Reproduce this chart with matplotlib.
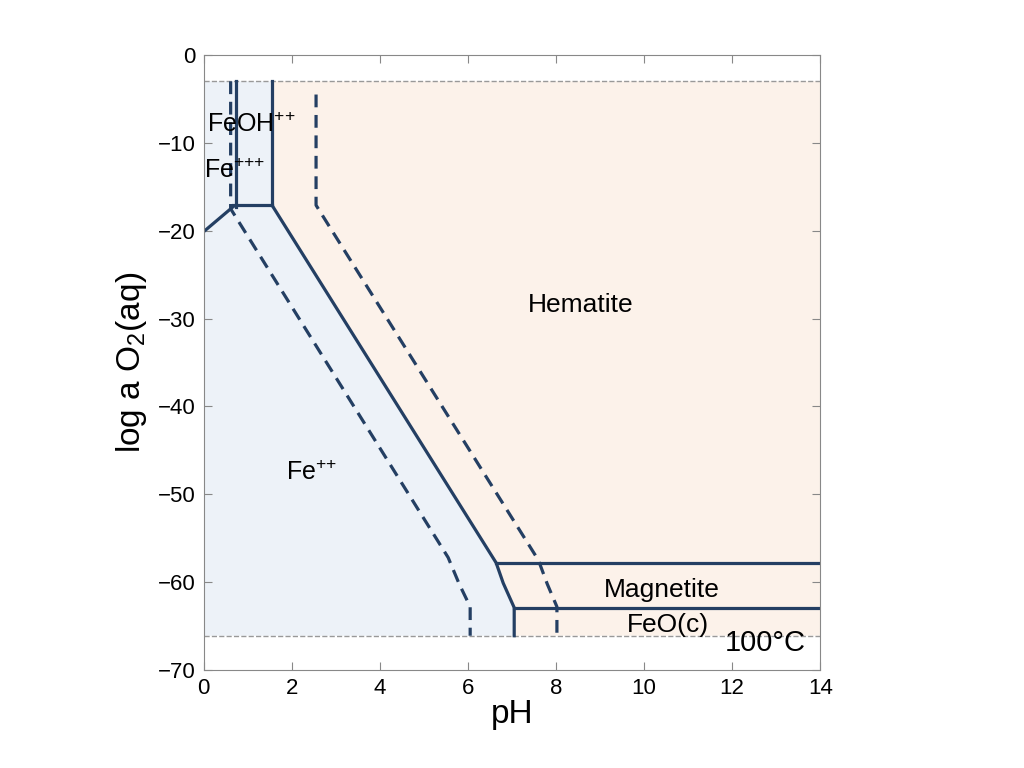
import numpy as np
import matplotlib.pyplot as plt

plt.rcParams['font.family'] = ['Liberation Sans', 'DejaVu Sans']
plt.rcParams['mathtext.fontset'] = 'custom'
plt.rcParams['mathtext.rm'] = 'Liberation Sans'
plt.rcParams['mathtext.it'] = 'Liberation Sans'
plt.rcParams['mathtext.bf'] = 'Liberation Sans:bold'

# diagram limits (log a O2)
y_top, y_bot = -3.0, -66.1

# solid boundaries
fe_fe3_x = [0.0, 0.66]
fe_fe3_y = [-20.1, -17.3]
fe3_feoh_x = [0.73, 0.73]
fe3_feoh_y = [-17.3, -3.0]
feoh_bot_x = [0.66, 1.55]
feoh_bot_y = [-17.1, -17.1]
feoh_hem_x = [1.55, 1.55]
feoh_hem_y = [-17.1, -3.0]
fe_hem_x = [1.55, 6.64, 6.80, 7.05, 7.05]
fe_hem_y = [-17.1, -57.8, -60.1, -62.9, -66.1]
mag_x = [6.64, 14.0]
mag_y = [-57.8, -57.8]
feo_x = [7.05, 14.0]
feo_y = [-62.9, -62.9]

# dashed boundaries
dash_left_x = [0.61, 0.61, 5.55, 5.80, 6.05, 6.05]
dash_left_y = [-3.0, -17.5, -57.2, -60.2, -62.8, -66.1]
dash_right_x = [2.55, 2.55, 7.60, 7.80, 8.02, 8.02]
dash_right_y = [-4.5, -17.1, -57.5, -60.2, -62.8, -66.1]

col = '#243f63'

fig = plt.figure(figsize=(10.24, 7.68), dpi=100)
ax = fig.add_axes([0.199, 0.1276, 0.602, 0.8008])

# fields
bx = [0.0, 1.55] + fe_hem_x + [0.0]
by = [y_top, y_top] + fe_hem_y + [y_bot]
ax.fill(bx, by, color='#edf2f8', lw=0)
hx = [1.55, 14.0, 14.0] + fe_hem_x[::-1]
hy = [y_top, y_top, y_bot] + fe_hem_y[::-1]
ax.fill(hx, hy, color='#fcf2ea', lw=0)

ax.axhline(y_top, color='#999999', ls='--', lw=1)
ax.axhline(y_bot, color='#999999', ls='--', lw=1)

for xs, ys in [(fe_fe3_x, fe_fe3_y), (fe3_feoh_x, fe3_feoh_y), (feoh_bot_x, feoh_bot_y),
               (feoh_hem_x, feoh_hem_y), (fe_hem_x, fe_hem_y), (mag_x, mag_y), (feo_x, feo_y)]:
    ax.plot(xs, ys, color=col, lw=2.3, solid_joinstyle='miter')
for xs, ys in [(dash_left_x, dash_left_y), (dash_right_x, dash_right_y)]:
    ax.plot(xs, ys, color=col, lw=2.3, ls=(0, (4, 2.4)))

ax.text(0.07, -7.9, r'$\mathrm{FeOH}^{+{+}}$', fontsize=18, va='center', ha='left')
ax.text(0.0, -13.2, r'$\mathrm{Fe}^{+{+}{+}}$', fontsize=18, va='center', ha='left')
ax.text(8.57, -28.5, 'Hematite', fontsize=19, va='center', ha='center')
ax.text(2.45, -47.6, r'$\mathrm{Fe}^{+{+}}$', fontsize=18, va='center', ha='center')
ax.text(10.4, -60.9, 'Magnetite', fontsize=19, va='center', ha='center')
ax.text(10.55, -64.9, 'FeO(c)', fontsize=19, va='center', ha='center')
ax.text(13.68, -66.9, '100°C', fontsize=21, va='center', ha='right')

ax.set_xlim(0, 14)
ax.set_ylim(-70, 0)
ax.set_xticks(np.arange(0, 15, 2))
ax.set_yticks(np.arange(-70, 1, 10))
ax.tick_params(direction='in', length=6, color='#888888', labelsize=16, pad=6,
               top=True, right=True)
for s in ax.spines.values():
    s.set_color('#888888')
ax.set_xlabel('pH', fontsize=24, labelpad=0)
ax.set_ylabel(r'log a O$_2$(aq)', fontsize=24, labelpad=6)

fig.savefig('out.png', dpi=100)
